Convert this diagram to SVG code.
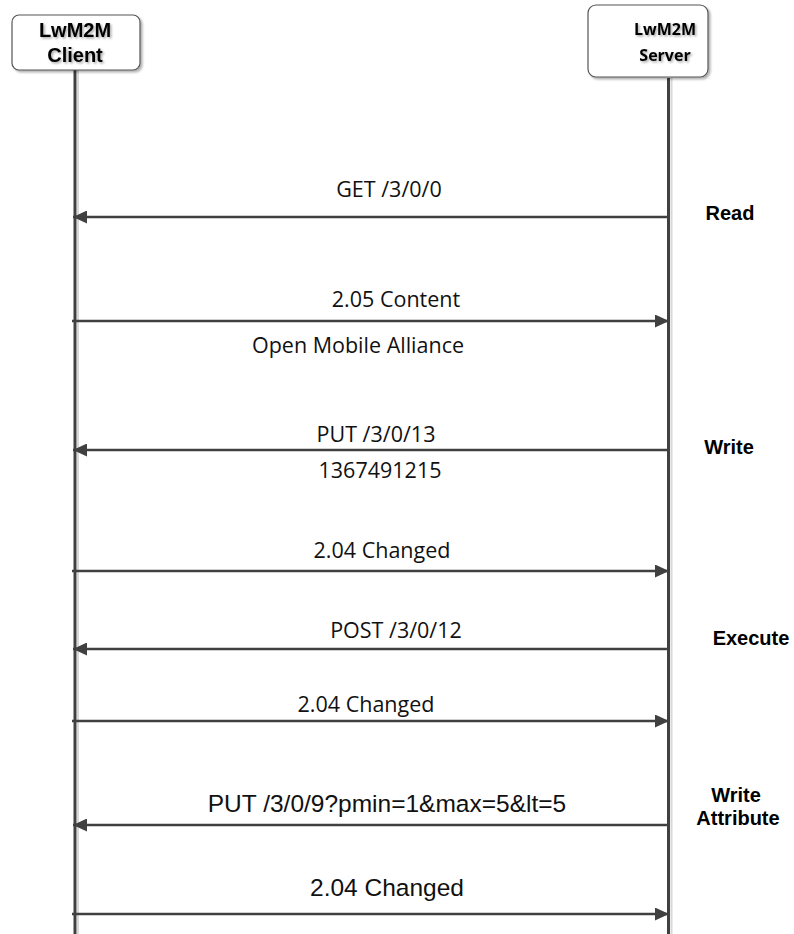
<svg xmlns="http://www.w3.org/2000/svg" width="794" height="934" viewBox="0 0 794 934">
<defs>
<filter id="sh" x="-10%" y="-10%" width="130%" height="140%"><feDropShadow dx="2" dy="2" stdDeviation="1.2" flood-color="#000" flood-opacity="0.3"/></filter>
<filter id="tsh" x="-10%" y="-20%" width="130%" height="150%"><feDropShadow dx="1.5" dy="1.5" stdDeviation="0.8" flood-color="#000" flood-opacity="0.35"/></filter>
<marker id="ah" viewBox="0 0 14 13" refX="14" refY="6.5" markerWidth="14" markerHeight="13" markerUnits="userSpaceOnUse" orient="auto"><path d="M0,0 L14,6.5 L0,13 Z" fill="#404040"/></marker>
</defs>
<style>
.box{fill:#fff;stroke:#555;stroke-width:1.2}
.life{stroke:#404040;stroke-width:3}
.lifesh{stroke:#d8d8d8;stroke-width:2}
.msg{stroke:#404040;stroke-width:2.5;fill:none;marker-end:url(#ah)}
.lbl{font-family:"Open Sans",sans-serif;font-size:21.5px;fill:#111;text-anchor:middle}
.lbl2{font-family:"Liberation Sans",Arial,sans-serif;font-size:24.5px;fill:#111;text-anchor:middle}
.side{font-family:"Liberation Sans",Arial,sans-serif;font-size:20px;font-weight:bold;fill:#000;text-anchor:middle}
.ct{font-family:"Liberation Sans",Arial,sans-serif;font-size:20px;font-weight:bold;fill:#000;text-anchor:middle}
.st{font-family:"Open Sans",sans-serif;font-size:16px;font-weight:bold;fill:#000;text-anchor:middle}
</style>
<rect width="794" height="934" fill="#fff"/>
<g id="lifelines">
<line class="lifesh" x1="78" y1="70" x2="78" y2="934"/>
<line class="lifesh" x1="671.5" y1="78" x2="671.5" y2="934"/>
<line class="life" x1="75" y1="70" x2="75" y2="934"/>
<line class="life" x1="668.5" y1="78" x2="668.5" y2="934"/>
</g>
<g id="client">
<rect class="box" x="12" y="15" width="128" height="55" rx="7" filter="url(#sh)"/>
<text class="ct" x="75" y="37" filter="url(#tsh)">LwM2M</text>
<text class="ct" x="75" y="62" filter="url(#tsh)">Client</text>
</g>
<g id="server">
<rect class="box" x="588" y="5" width="120" height="72" rx="8" filter="url(#sh)"/>
<text class="st" x="665" y="35" filter="url(#tsh)">LwM2M</text>
<text class="st" x="665" y="61" filter="url(#tsh)">Server</text>
</g>
<g id="connectors">
<line class="msg" x1="668" y1="217" x2="73" y2="217"/>
<line class="msg" x1="72" y1="321" x2="669" y2="321"/>
<line class="msg" x1="668" y1="450" x2="73" y2="450"/>
<line class="msg" x1="72" y1="571" x2="669" y2="571"/>
<line class="msg" x1="668" y1="649" x2="73" y2="649"/>
<line class="msg" x1="72" y1="721" x2="669" y2="721"/>
<line class="msg" x1="668" y1="825" x2="73" y2="825"/>
<line class="msg" x1="72" y1="914" x2="669" y2="914"/>
</g>
<g id="labels">
<text class="lbl" x="389" y="197">GET /3/0/0</text>
<text class="lbl" x="396" y="307">2.05 Content</text>
<text class="lbl" x="358" y="353">Open Mobile Alliance</text>
<text class="lbl" x="376" y="442">PUT /3/0/13</text>
<text class="lbl" x="380" y="478">1367491215</text>
<text class="lbl" x="382" y="558">2.04 Changed</text>
<text class="lbl" x="396" y="638">POST /3/0/12</text>
<text class="lbl" x="366" y="712">2.04 Changed</text>
<text class="lbl2" x="387" y="812">PUT /3/0/9?pmin=1&amp;max=5&amp;lt=5</text>
<text class="lbl2" x="387" y="896">2.04 Changed</text>
</g>
<g id="ops">
<text class="side" x="730" y="220">Read</text>
<text class="side" x="729" y="454">Write</text>
<text class="side" x="751" y="645">Execute</text>
<text class="side" x="736" y="802">Write</text>
<text class="side" x="738" y="825">Attribute</text>
</g>
</svg>
